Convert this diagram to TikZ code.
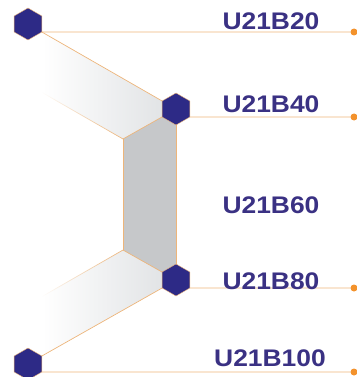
\documentclass[tikz,border=0pt]{standalone}
\usepackage{fontspec}
\setmainfont{Liberation Sans}
\usetikzlibrary{shapes.geometric,fadings}
\definecolor{hexfill}{HTML}{2D2A86}
\definecolor{wire}{HTML}{EDB57A}
\definecolor{dotc}{HTML}{F3922C}
\definecolor{labc}{HTML}{3A3183}
\definecolor{bandgray}{HTML}{E2E4E6}
\definecolor{rectgray}{HTML}{C6C8CA}
\tikzset{
  hexn/.style={regular polygon, regular polygon sides=6, shape border rotate=30,
    minimum size=32pt, inner sep=0pt, outer sep=0pt, fill=hexfill, draw=wire, line width=0.4pt},
  dotn/.style={circle, fill=dotc, minimum size=7pt, inner sep=0pt, outer sep=0pt},
  wireline/.style={draw=wire, line width=0.9pt},
  edge/.style={draw=wire, line width=0.7pt},
  lab/.style={anchor=base, text=labc, inner sep=0pt, font=\fontsize{24}{24}\selectfont\bfseries}
}
\newcommand{\wlab}[1]{\scalebox{1.1}[1]{#1}}
\begin{document}
\begin{tikzpicture}[x=1pt,y=-1pt]
\useasboundingbox (0,0) rectangle (356,377);
% coordinates of band corners
\coordinate (uD) at (123,139);
\coordinate (uE) at (42,92.5);
\coordinate (lF) at (123,250);
\coordinate (lJ) at (42,296.5);
% hexagon nodes (positions)
\path (28,24) coordinate (p1) (176,109) coordinate (p2) (176,280) coordinate (p3) (28,364) coordinate (p4);
% upper band
\shade[left color=white, right color=bandgray] (42,32) -- (162,101) -- (162,117) -- (uD) -- (uE) -- cycle;
% lower band
\shade[left color=white, right color=bandgray] (lF) -- (162,272) -- (162,288) -- (42,356) -- (lJ) -- cycle;
% gray rect
\fill[rectgray] (uD) -- (162,117) -- (176,109) -- (176,280) -- (162,272) -- (lF) -- cycle;
\draw[edge] (uD) -- (162,117);
\draw[edge] (lF) -- (162,272);
\draw[edge] (uD) -- (lF);
\draw[edge] (176,109) -- (176,280);
\draw[edge, path fading=west] (uD) -- (uE);
\draw[edge, path fading=west] (lF) -- (lJ);
% hexagons
\node[hexn] (h1) at (p1) {};
\node[hexn] (h2) at (p2) {};
\node[hexn] (h3) at (p3) {};
\node[hexn] (h4) at (p4) {};
% band outer edges
\draw[edge] (h1.-30) -- (h2.150);
\draw[edge] (h3.210) -- (h4.30);
% dots
\node[dotn] (d1) at (354,32) {};
\node[dotn] (d2) at (354,117) {};
\node[dotn] (d3) at (354,288) {};
\node[dotn] (d4) at (354,372) {};
\draw[wireline] (h1.-30) -- (d1);
\draw[wireline] (h2.-30) -- (d2);
\draw[wireline] (h3.-30) -- (d3);
\draw[wireline] (h4.-30) -- (d4);
% labels
\node[lab] (t1) at (271,30) {\wlab{U21B20}};
\node[lab] (t2) at (271,113) {\wlab{U21B40}};
\node[lab] (t3) at (271,213) {\wlab{U21B60}};
\node[lab] (t4) at (271,289) {\wlab{U21B80}};
\node[lab] (t5) at (270,366) {\wlab{U21B100}};
\end{tikzpicture}
\end{document}
